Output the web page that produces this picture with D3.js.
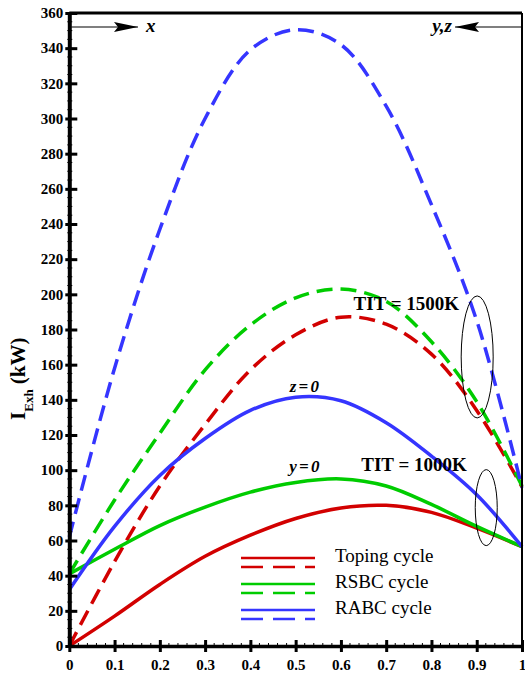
<!DOCTYPE html>
<html>
<head>
<meta charset="utf-8">
<script src="https://cdn.jsdelivr.net/npm/d3@7"></script>
<style>
  body { margin: 0; background: #fff; }
  text { font-family: "Liberation Serif", "Times New Roman", serif; }
</style>
</head>
<body>
<svg id="main-svg"></svg>
<script>
// x = y = z fraction along the axis
const xValues = [0, 0.1, 0.2, 0.3, 0.4, 0.5, 0.6, 0.7, 0.8, 0.9, 1];
const topingSolid = [0, 17, 35, 51, 63, 72.5, 78.5, 80, 76, 67, 56.5];
const topingDashed = [0, 48, 91, 126, 157, 177, 187, 183, 166, 134, 90.5];
const rsbcSolid = [41, 55, 68.5, 79, 87.5, 93, 95, 91, 80.5, 68, 56.5];
const rsbcDashed = [41, 83, 121, 157, 182.5, 198, 203, 196, 173, 139, 91];
const rabcSolid = [32, 68, 97, 118, 134, 141.5, 139.5, 127, 108, 86, 56.5];
const rabcDashed = [62, 158, 237, 300, 339, 350.5, 342, 307, 251, 185, 90];

const xTicks = [0, 0.1, 0.2, 0.3, 0.4, 0.5, 0.6, 0.7, 0.8, 0.9, 1];
const yTicks = d3.range(0, 361, 20);
const legendNames = ["Toping cycle", "RSBC cycle", "RABC cycle"];

const red = "#d20000", green = "#00cc00", blue = "#3535ff";

let width = 525, height = 673;
let margin = {left: 69.3, right: 3, top: 13, bottom: 27};

let svg = d3.select('#main-svg').attr('width', width).attr('height', height);

let x = d3.scaleLinear().domain([0, 1]).range([margin.left, width - margin.right]);
let y = d3.scaleLinear().domain([0, 360]).range([height - margin.bottom, margin.top]);

let series = [
  {vals: topingSolid, color: red, dash: null},
  {vals: topingDashed, color: red, dash: "16,8"},
  {vals: rsbcSolid, color: green, dash: null},
  {vals: rsbcDashed, color: green, dash: "16,8"},
  {vals: rabcSolid, color: blue, dash: null},
  {vals: rabcDashed, color: blue, dash: "16,8"}
];

let line = d3.line()
  .x((d, i) => x(xValues[i]))
  .y(d => y(d))
  .curve(d3.curveCatmullRom.alpha(0.5));

svg.selectAll('path.curve')
  .data(series)
  .enter()
  .append('path')
  .attr('class', 'curve')
  .attr('d', d => line(d.vals))
  .attr('fill', 'none')
  .attr('stroke', d => d.color)
  .attr('stroke-width', 3.5)
  .attr('stroke-dasharray', d => d.dash);

// frame (top and right)
svg.append('line').attr('x1', x(0)).attr('x2', x(1)).attr('y1', y(360)).attr('y2', y(360))
  .attr('stroke', '#000').attr('stroke-width', 3);
svg.append('line').attr('x1', x(1)).attr('x2', x(1)).attr('y1', y(360)).attr('y2', y(0))
  .attr('stroke', '#000').attr('stroke-width', 2);

// minor ticks
svg.selectAll('line.minorx')
  .data(d3.range(0, 1.0001, 0.02))
  .enter().append('line')
  .attr('x1', d => x(d)).attr('x2', d => x(d))
  .attr('y1', y(0) - 3).attr('y2', y(0) + 2)
  .attr('stroke', '#000').attr('stroke-width', 1);
svg.selectAll('line.minory')
  .data(d3.range(0, 361, 5))
  .enter().append('line')
  .attr('x1', x(0) - 2).attr('x2', x(0) + 3)
  .attr('y1', d => y(d)).attr('y2', d => y(d))
  .attr('stroke', '#000').attr('stroke-width', 1);

// axes
let xAxis = svg.append('g')
  .attr('transform', `translate(0,${y(0)})`)
  .call(d3.axisBottom(x).tickValues(xTicks).tickSize(0).tickPadding(13)
    .tickFormat(d => d === 0 || d === 1 ? d3.format('d')(d) : d3.format('.1f')(d)));
xAxis.select('.domain').attr('stroke-width', 3.5);
xAxis.selectAll('.tick').append('line')
  .attr('y1', -6).attr('y2', 6).attr('stroke', '#000').attr('stroke-width', 3);
xAxis.selectAll('text').attr('font-size', 15).attr('font-weight', 'bold')
  .attr('font-family', '"Liberation Serif", serif').attr('fill', '#000');

let yAxis = svg.append('g')
  .attr('transform', `translate(${x(0)},0)`)
  .call(d3.axisLeft(y).tickValues(yTicks).tickSize(0).tickPadding(6));
yAxis.select('.domain').attr('stroke-width', 4);
yAxis.selectAll('.tick').append('line')
  .attr('x1', -4).attr('x2', 8).attr('stroke', '#000').attr('stroke-width', 3);
yAxis.selectAll('text').attr('font-size', 15).attr('font-weight', 'bold')
  .attr('font-family', '"Liberation Serif", serif').attr('fill', '#000');

// y axis title
let yTitle = svg.append('text')
  .attr('transform', `translate(25,${y(152)}) rotate(-90)`)
  .attr('text-anchor', 'middle')
  .attr('font-size', 21).attr('font-weight', 'bold');
yTitle.append('tspan').text('I');
yTitle.append('tspan').attr('font-size', 13).attr('dy', 8).text('Exh');
yTitle.append('tspan').attr('dy', -8).text(' (kW)');

// direction arrows at the top
let defs = svg.append('defs');
defs.append('marker').attr('id', 'arrow')
  .attr('viewBox', '0 0 24 10').attr('refX', 24).attr('refY', 5)
  .attr('markerWidth', 24).attr('markerHeight', 10)
  .attr('markerUnits', 'userSpaceOnUse').attr('orient', 'auto')
  .append('path').attr('d', 'M0,0 L24,5 L0,10 L4,5 Z').attr('fill', '#000');

svg.append('line').attr('x1', x(0) + 2).attr('x2', 138).attr('y1', 27).attr('y2', 27)
  .attr('stroke', '#000').attr('stroke-width', 1.2).attr('marker-end', 'url(#arrow)');
svg.append('text').attr('x', 146).attr('y', 32).attr('font-size', 19)
  .attr('font-weight', 'bold').attr('font-style', 'italic').text('x');

svg.append('line').attr('x1', x(1) - 1).attr('x2', 455).attr('y1', 27).attr('y2', 27)
  .attr('stroke', '#000').attr('stroke-width', 1.2).attr('marker-end', 'url(#arrow)');
svg.append('text').attr('x', 452).attr('y', 32).attr('text-anchor', 'end').attr('font-size', 19)
  .attr('font-weight', 'bold').attr('font-style', 'italic').text('y,z');

// annotations
let notes = [
  {text: 'TIT = 1500K', x: 0.628, v: 191, style: 'normal'},
  {text: 'TIT = 1000K', x: 0.645, v: 99.5, style: 'normal'},
  {text: 'z = 0', x: 0.487, v: 144.5, style: 'italic'},
  {text: 'y = 0', x: 0.486, v: 99, style: 'italic'}
];
svg.selectAll('text.note')
  .data(notes)
  .enter().append('text')
  .attr('class', 'note')
  .attr('x', d => x(d.x)).attr('y', d => y(d.v))
  .attr('font-size', d => d.style === 'italic' ? 17 : 19)
  .attr('font-weight', 'bold')
  .attr('font-style', d => d.style)
  .style('letter-spacing', d => d.style === 'italic' ? '-1px' : '0px')
  .text(d => d.text);

let ellipses = [
  {x: 0.901, v: 164.4, rx: 16, ry: 61},
  {x: 0.921, v: 78.7, rx: 11, ry: 38}
];
svg.selectAll('ellipse')
  .data(ellipses)
  .enter().append('ellipse')
  .attr('cx', d => x(d.x)).attr('cy', d => y(d.v))
  .attr('rx', d => d.rx).attr('ry', d => d.ry)
  .attr('fill', 'none').attr('stroke', '#000').attr('stroke-width', 1);

// legend
let legendColors = [red, green, blue];
let legend = svg.selectAll('g.legend')
  .data(legendNames)
  .enter().append('g')
  .attr('class', 'legend')
  .attr('transform', (d, i) => `translate(241,${558 + i * 26})`);
legend.append('line').attr('x1', 0).attr('x2', 74).attr('y1', 0).attr('y2', 0)
  .attr('stroke', (d, i) => legendColors[i]).attr('stroke-width', 2.5);
legend.append('line').attr('x1', 0).attr('x2', 74).attr('y1', 9).attr('y2', 9)
  .attr('stroke', (d, i) => legendColors[i]).attr('stroke-width', 2.5)
  .attr('stroke-dasharray', '22,10');
legend.append('text').attr('x', 94).attr('y', 4).attr('font-size', 19)
  .text(d => d);
</script>
</body>
</html>
